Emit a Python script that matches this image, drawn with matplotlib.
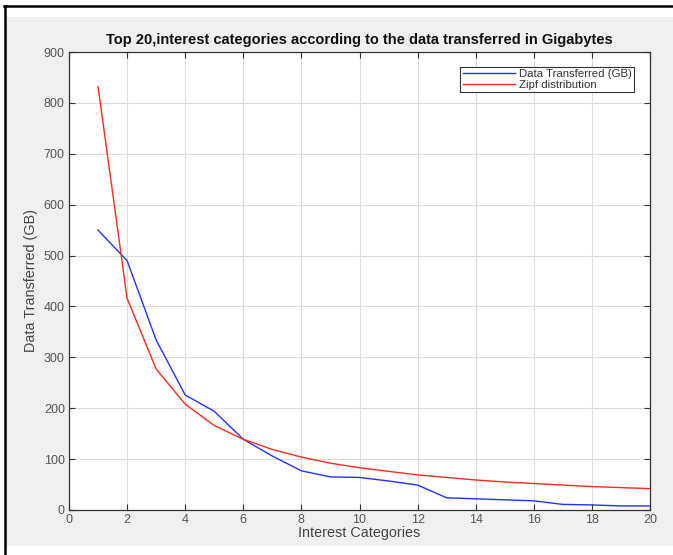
import matplotlib
matplotlib.use('Agg')
from matplotlib import pyplot as plt
from matplotlib.lines import Line2D
from matplotlib.patches import Rectangle

plt.rcParams['font.family'] = ['Liberation Sans', 'DejaVu Sans']

# Interest categories (rank) and the two series
categories = list(range(1, 21))
data_gb = [550, 490, 334, 226, 194, 139, 106, 77, 65, 64,
           57, 49, 24, 22, 20, 18, 11, 10, 8, 8]
zipf = [832, 416, 277, 208, 166, 139, 119, 104, 92, 83,
        76, 69, 64, 59, 55, 52, 49, 46, 44, 42]

fig = plt.figure(figsize=(6.73, 5.55), dpi=100, facecolor='white')

# grey figure panel with the black page border on top / left
fig.patches.append(Rectangle((6 / 673, 1 - 546 / 555), 1, (546 - 17) / 555,
                             transform=fig.transFigure, facecolor='#f0f0f0',
                             edgecolor='none', zorder=-10))
fig.add_artist(Line2D([4 / 673, 1], [1 - 6 / 555, 1 - 6 / 555],
                      transform=fig.transFigure, color='black', lw=1.8))
fig.add_artist(Line2D([4.5 / 673, 4.5 / 673], [0, 1 - 6 / 555],
                      transform=fig.transFigure, color='black', lw=1.8))

ax = fig.add_axes([69 / 673, 1 - 510 / 555, (650 - 69) / 673, (510 - 52) / 555])
ax.plot(categories, data_gb, color='#2233ff', lw=1.0, label='Data Transferred (GB)')
ax.plot(categories, zipf, color='#ff2a1a', lw=1.0, label='Zipf distribution')

ax.set_xlim(0, 20)
ax.set_ylim(0, 900)
ax.set_xticks(range(0, 21, 2))
ax.set_yticks(range(0, 901, 100))
ax.grid(True, color='#dddddd', lw=0.8)
ax.set_axisbelow(True)
ax.tick_params(direction='in', top=True, right=True, length=4, width=0.8,
               labelsize=9, labelcolor='#555555', color='#333333', pad=3)
for s in ax.spines.values():
    s.set_color('#333333')
    s.set_linewidth(0.9)

ax.set_title('Top 20,interest categories according to the data transferred in Gigabytes',
             fontsize=10.5, fontweight='bold', color='#111111', pad=6)
ax.set_xlabel('Interest Categories', fontsize=10.4, color='#444444', labelpad=0)
ax.set_ylabel('Data Transferred (GB)', fontsize=10.4, color='#444444', labelpad=4)

leg = ax.legend(loc='upper right', bbox_to_anchor=(0.972, 0.968), fontsize=8.2,
                fancybox=False, framealpha=1, edgecolor='#333333',
                handlelength=4.6, handletextpad=0.3, labelspacing=0.05,
                borderpad=0.2, borderaxespad=0)
leg.get_frame().set_linewidth(0.8)
for t in leg.get_texts():
    t.set_color('#333333')

fig.savefig('out.png', dpi=100, facecolor='white')
